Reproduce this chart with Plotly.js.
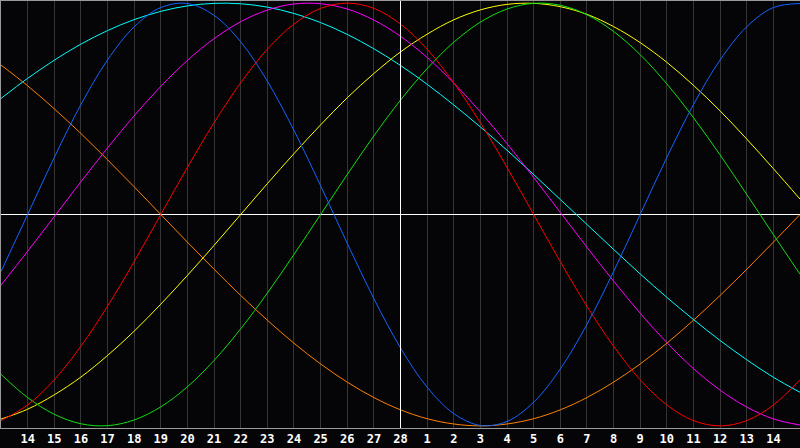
<!DOCTYPE html>
<html>
<head>
<meta charset="utf-8">
<script src="https://cdn.plot.ly/plotly-3.0.1.min.js"></script>
<style>
html,body{margin:0;padding:0;background:#050508;}
#chart{width:800px;height:448px;}
</style>
</head>
<body>
<div id="chart"></div>
<script>
// day index across the window (0 = left edge, 15 = today, 30 = right edge)
var dayIndex = [0,1,2,3,4,5,6,7,8,9,10,11,12,13,14,15,16,17,18,19,20,21,22,23,24,25,26,27,28,29,30];
var tickPositions = [1,2,3,4,5,6,7,8,9,10,11,12,13,14,15,16,17,18,19,20,21,22,23,24,25,26,27,28,29];
var tickLabels = ["14","15","16","17","18","19","20","21","22","23","24","25","26","27","28","1","2","3","4","5","6","7","8","9","10","11","12","13","14"];
var todayIndex = 15;

var physical = [-0.270,0,0.270,0.520,0.731,0.888,0.979,0.998,0.942,0.817,0.631,0.398,0.136,-0.136,-0.398,-0.631,-0.817,-0.942,-0.998,-0.979,-0.888,-0.731,-0.520,-0.270,0,0.270,0.520,0.731,0.888,0.979,0.998];
var emotional = [-0.975,-0.901,-0.782,-0.623,-0.434,-0.223,0,0.223,0.434,0.623,0.782,0.901,0.975,1,0.975,0.901,0.782,0.623,0.434,0.223,0,-0.223,-0.434,-0.623,-0.782,-0.901,-0.975,-1,-0.975,-0.901,-0.782];
var intellectual = [-0.756,-0.866,-0.945,-0.990,-0.999,-0.972,-0.910,-0.815,-0.690,-0.541,-0.372,-0.189,0,0.189,0.372,0.541,0.690,0.815,0.910,0.972,0.999,0.990,0.945,0.866,0.756,0.618,0.458,0.282,0.095,-0.095,-0.282];
var intuitive = [-0.334,-0.174,-0.010,0.155,0.315,0.467,0.606,0.729,0.832,0.912,0.967,0.996,0.997,0.972,0.920,0.843,0.743,0.622,0.485,0.335,0.175,0.010,-0.155,-0.315,-0.467,-0.606,-0.729,-0.831,-0.911,-0.967,-0.996];
var aesthetic = [-0.968,-0.921,-0.853,-0.769,-0.667,-0.552,-0.424,-0.288,-0.146,0,0.146,0.288,0.424,0.552,0.667,0.769,0.853,0.921,0.968,0.994,0.999,0.983,0.947,0.889,0.813,0.720,0.611,0.490,0.357,0.217,0.073];
var awareness = [0.707,0.609,0.500,0.383,0.259,0.131,0,-0.131,-0.259,-0.383,-0.500,-0.609,-0.707,-0.793,-0.866,-0.924,-0.966,-0.991,-1,-0.991,-0.966,-0.924,-0.866,-0.793,-0.707,-0.609,-0.500,-0.383,-0.259,-0.131,0];
var spiritual = [0.549,0.644,0.730,0.806,0.870,0.922,0.961,0.987,0.999,0.997,0.981,0.951,0.908,0.852,0.784,0.705,0.616,0.518,0.414,0.304,0.189,0.071,-0.047,-0.165,-0.281,-0.392,-0.497,-0.596,-0.687,-0.770,-0.841];

var seriesNames = ["Awareness","Spiritual","Aesthetic","Intellectual","Intuitive","Emotional","Physical"];
var seriesData = [awareness, spiritual, aesthetic, intellectual, intuitive, emotional, physical];
var seriesColors = ["#ff8000","#00ffff","#ffff00","#10e010","#ff00ff","#ff0000","#1464ff"];

var traces = seriesData.map(function(vals, k){
  return {
    x: dayIndex, y: vals, type: "scatter", mode: "lines",
    name: seriesNames[k],
    line: {color: seriesColors[k], width: 1, shape: "spline", smoothing: 1.0},
    hoverinfo: "skip"
  };
});

var layout = {
  width: 800, height: 448,
  margin: {l: 1, r: 0, t: 1, b: 20, pad: 0},
  paper_bgcolor: "#050508",
  plot_bgcolor: "#050508",
  showlegend: false,
  xaxis: {
    range: [0, 30], fixedrange: true,
    tickmode: "array", tickvals: tickPositions, ticktext: tickLabels,
    showgrid: true, gridcolor: "#353535", gridwidth: 1,
    zeroline: false,
    showline: true, linecolor: "#9a9a9a", linewidth: 1, mirror: true,
    ticks: "", ticklabelstandoff: 0,
    tickfont: {family: "DejaVu Sans Mono", size: 12, color: "#ffffff", weight: "bold"}
  },
  yaxis: {
    range: [-1.01, 1.01], fixedrange: true,
    showgrid: false, showticklabels: false, ticks: "",
    zeroline: true, zerolinecolor: "#ffffff", zerolinewidth: 1,
    showline: true, linecolor: "#9a9a9a", linewidth: 1
  },
  shapes: [
    {type: "line", xref: "x", yref: "paper", x0: todayIndex, x1: todayIndex, y0: 0, y1: 1,
     line: {color: "#ffffff", width: 1}, layer: "above"}
  ]
};

Plotly.newPlot("chart", traces, layout, {staticPlot: true, displayModeBar: false});
</script>
</body>
</html>
